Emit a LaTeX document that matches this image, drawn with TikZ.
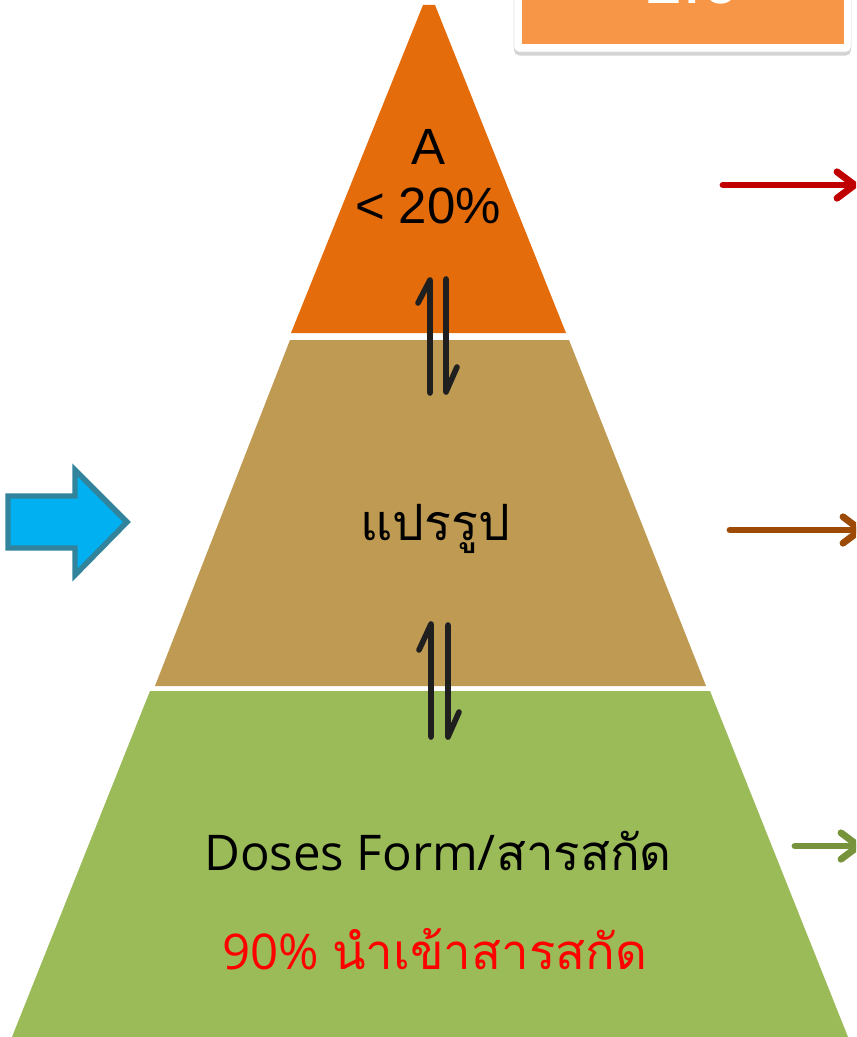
\documentclass[tikz,border=0pt]{standalone}
\usepackage{fontspec}
\setmainfont{Liberation Sans}
\newfontfamily\opensans{Open Sans}
\newfontfamily\thaifont[Script=Thai]{Loma}
\usepackage{tikz}
\usetikzlibrary{arrows.meta,shadows}

\definecolor{tiertop}{HTML}{E46C0A}
\definecolor{tiermid}{HTML}{BE9A52}
\definecolor{tierlow}{HTML}{9BBB59}
\definecolor{boxorange}{HTML}{F79646}
\definecolor{arrowred}{HTML}{C00000}
\definecolor{arrowbrown}{HTML}{9C4A06}
\definecolor{arrowgreen}{HTML}{77933C}
\definecolor{blockblue}{HTML}{00B0F0}
\definecolor{blockedge}{HTML}{31849B}

\begin{document}
\begin{tikzpicture}[x=0.02cm,y=-0.02cm,line join=round]
\tikzstyle{tiertext}=[inner sep=0pt,anchor=base,font=\fontsize{29}{33}\selectfont]
\tikzstyle{lowtext}=[inner sep=0pt,anchor=base,font=\opensans\fontsize{28}{33}\selectfont]
\tikzstyle{harp}=[draw=black!88,line width=3.2pt,line cap=round]
\tikzstyle{sidearrow}=[line width=3.9pt,line cap=round,-{Straight Barb[length=10pt,width=15pt,round]}]
\useasboundingbox (0,0) rectangle (856,1037);
\clip (0,0) rectangle (856,1037);

% pyramid
\fill[tiertop] (423,5) -- (435,5) -- (566,333) -- (291,333) -- cycle;
\fill[tiermid] (290,340) -- (569,340) -- (706,686) -- (155,686) -- cycle;
\fill[tierlow] (150,691) -- (710,691) -- (848,1037) -- (12,1037) -- cycle;

% title box
\draw[fill=white,draw=black!12,line width=0.3pt,rounded corners=3pt,
  drop shadow={shadow xshift=0pt,shadow yshift=-2pt,opacity=0.35}] (514,-20) rectangle (851,52);
\fill[boxorange] (522,-20) rectangle (844,44);
\node[inner sep=0pt,anchor=base,text=white,font=\fontsize{40}{44}\selectfont] (title) at (692,4) {1.0};

% labels
\node[tiertext] (tierA) at (428,165) {A};
\node[tiertext] (tierApct) at (428,223) {< 20\%};
\node[tiertext,font=\thaifont\fontsize{28.5}{33}\selectfont] (tierB) at (435,540) {แปรรูป};
\node[lowtext] (tierC) at (438,870) {Doses Form/{\thaifont สารสกัด}};
\node[lowtext,text=red] (tierCpct) at (435,969) {90\% {\thaifont นำเข้าสารสกัด}};

% harpoons
\draw[harp] (430,393) -- (430,280) -- (418,303);
\draw[harp] (446,279) -- (446,392) -- (457,367);
\draw[harp] (431,737) -- (431,624) -- (419,650);
\draw[harp] (448,625) -- (448,737) -- (459,712);

% side arrows
\coordinate (redS) at (723,185);   \coordinate (redE) at (858,185);
\coordinate (brownS) at (730,530); \coordinate (brownE) at (864,530);
\coordinate (greenS) at (795,846); \coordinate (greenE) at (862,846);
\draw[sidearrow,arrowred] (redS) -- (redE);
\draw[sidearrow,arrowbrown] (brownS) -- (brownE);
\draw[sidearrow,arrowgreen] (greenS) -- (greenE);

% input arrow
\draw[blockedge,fill=blockblue,line width=3.1pt,line join=miter]
  (8,496) -- (75,496) -- (75,470) -- (127,522) -- (75,575) -- (75,548) -- (8,548) -- cycle;
\end{tikzpicture}
\end{document}
